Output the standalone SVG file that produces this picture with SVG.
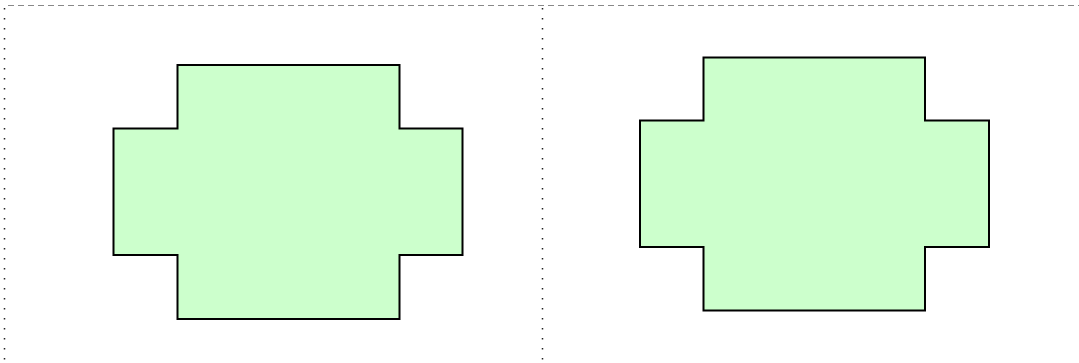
<svg xmlns="http://www.w3.org/2000/svg" width="1079" height="363" viewBox="0 0 1079 363">
<style>
.frame{fill:none;stroke:#888;stroke-width:1;}
.dash{stroke-dasharray:6 4;}
.dot{stroke:#222;stroke-width:1.5;stroke-dasharray:1.5 8.5;}
.shape{fill:#ccffcc;stroke:#000;stroke-width:2;stroke-linejoin:miter;}
</style>
<g id="frame">
<line class="frame dash" x1="8" y1="5.5" x2="1079" y2="5.5"/>
<line class="frame dot" x1="4.5" y1="8" x2="4.5" y2="363"/>
<line class="frame dot" x1="542.5" y1="8" x2="542.5" y2="363"/>
</g>
<g id="shape1">
<polygon class="shape" points="177.5,65 399.5,65 399.5,128.5 462.5,128.5 462.5,255 399.5,255 399.5,319 177.5,319 177.5,255 113.5,255 113.5,128.5 177.5,128.5"/>
</g>
<g id="shape2">
<polygon class="shape" points="703.5,57.5 925,57.5 925,120.5 989,120.5 989,247 925,247 925,310.5 703.5,310.5 703.5,247 640,247 640,120.5 703.5,120.5"/>
</g>
<g id="connectors"></g>
</svg>
